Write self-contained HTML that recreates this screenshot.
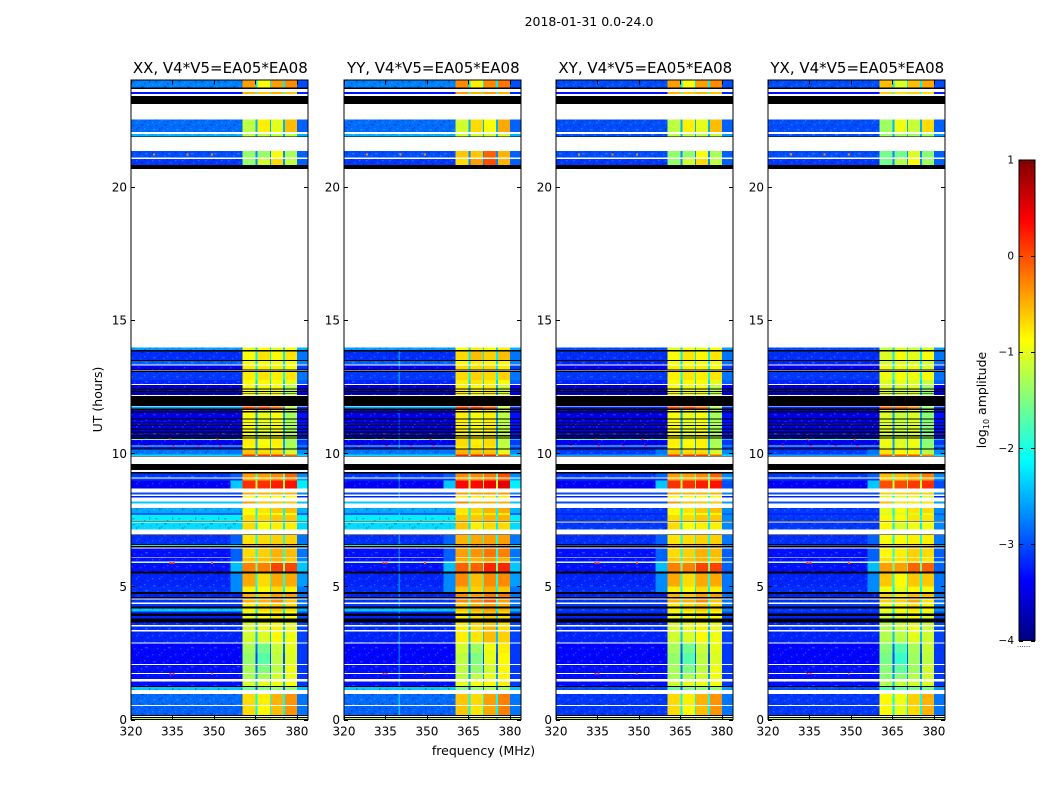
<!DOCTYPE html>
<html>
<head>
<meta charset="utf-8">
<title>2018-01-31 amplitude waterfall</title>
<style>
html,body{margin:0;padding:0;background:#fff;}
body{width:1050px;height:800px;overflow:hidden;}
svg{display:block;}
text{font-family:"DejaVu Sans","Liberation Sans",sans-serif;fill:#000;}
</style>
</head>
<body>
<svg id="chart" xmlns="http://www.w3.org/2000/svg" width="1050" height="800" viewBox="0 0 1050 800">
  <defs>
    <pattern id="speckle" width="23" height="19" patternUnits="userSpaceOnUse">
      <rect x="1" y="0" width="1.4" height="1.4" fill="#000" opacity=".28"/>
      <rect x="7" y="1" width="2.8" height="1.4" fill="#8cf" opacity=".3"/>
      <rect x="14" y="0" width="1.4" height="1.4" fill="#000" opacity=".3"/>
      <rect x="19" y="2" width="1.4" height="1.4" fill="#8cf" opacity=".25"/>
      <rect x="3" y="3" width="1.4" height="1.4" fill="#8cf" opacity=".28"/>
      <rect x="11" y="4" width="1.4" height="2.8" fill="#000" opacity=".28"/>
      <rect x="17" y="5" width="2.8" height="1.4" fill="#000" opacity=".22"/>
      <rect x="0" y="6" width="1.4" height="1.4" fill="#8cf" opacity=".25"/>
      <rect x="6" y="7" width="1.4" height="1.4" fill="#000" opacity=".3"/>
      <rect x="21" y="8" width="1.4" height="1.4" fill="#8cf" opacity=".3"/>
      <rect x="14" y="8" width="1.4" height="1.4" fill="#8cf" opacity=".3"/>
      <rect x="3" y="10" width="2.8" height="1.4" fill="#000" opacity=".25"/>
      <rect x="9" y="10" width="1.4" height="1.4" fill="#8cf" opacity=".25"/>
      <rect x="18" y="11" width="1.4" height="1.4" fill="#000" opacity=".3"/>
      <rect x="12" y="12" width="1.4" height="1.4" fill="#000" opacity=".22"/>
      <rect x="0" y="13" width="1.4" height="1.4" fill="#000" opacity=".25"/>
      <rect x="6" y="14" width="1.4" height="1.4" fill="#8cf" opacity=".3"/>
      <rect x="21" y="14" width="1.4" height="2.8" fill="#000" opacity=".22"/>
      <rect x="15" y="15" width="2.8" height="1.4" fill="#8cf" opacity=".25"/>
      <rect x="2" y="16" width="1.4" height="1.4" fill="#8cf" opacity=".25"/>
      <rect x="10" y="17" width="1.4" height="1.4" fill="#000" opacity=".28"/>
    </pattern>
    <linearGradient id="jet-gradient" x1="0" y1="1" x2="0" y2="0">
      <stop offset="0" stop-color="#00007f"/>
      <stop offset=".125" stop-color="#0000ff"/>
      <stop offset=".375" stop-color="#00ffff"/>
      <stop offset=".625" stop-color="#ffff00"/>
      <stop offset=".875" stop-color="#ff0000"/>
      <stop offset="1" stop-color="#7f0000"/>
    </linearGradient>
  </defs>
  <text x="589" y="26" font-size="12.5" text-anchor="middle">2018-01-31 0.0-24.0</text>
  <text x="483.5" y="755" font-size="12.5" text-anchor="middle">frequency (MHz)</text>
  <text x="0" y="0" font-size="12.5" text-anchor="middle" transform="translate(102,399.5) rotate(-90)">UT (hours)</text>
  <text x="0" y="0" font-size="12.5" text-anchor="middle" transform="translate(986,400) rotate(-90)">log<tspan font-size="8" dy="3">10</tspan><tspan dy="-3"> amplitude</tspan></text>
</svg>
<script>
// ---- data -------------------------------------------------------------
const panelTitles = ["XX, V4*V5=EA05*EA08", "YY, V4*V5=EA05*EA08", "XY, V4*V5=EA05*EA08", "YX, V4*V5=EA05*EA08"];
const panelBandShift = [0, 0.1, 0, -0.15];
const panelIsCross = [false, false, true, true];
const freqTicks = [320, 335, 350, 365, 380];
const timeTicks = [0, 5, 10, 15, 20];
const colorTicks = [-4, -3, -2, -1, 0, 1];
const freqRange = [320, 384];
const timeRange = [0, 24];
const colorRange = [-4, 1];
// spectral windows (MHz)
const shoulderEdges = [356, 360.4];
const bandEdges = [[360.4, 365.1], [365.7, 370.2], [370.7, 375], [375.6, 380]];
const gapEdges = [[365.1, 365.7], [370.2, 370.7], [375, 375.6]];
const yyRfiChannel = [339.7, 340.2];
// t0, t1 (hours), bg parallel, bg cross, upper-edge level, band 1-4, extra YY band level (log10 amp)
const rows = [
[0,.06,-1.2,-1.2,-1.2,-1,-1,-1,-1,0],
[.16,.5,-2.9,-3.1,-2.8,-.7,-.85,-.55,-.35,0],
[.55,.95,-2.85,-3.1,-2.8,-.7,-.8,-.5,-.35,0],
[1.1,1.23,-2.4,-3,-2.4,-1.6,-1.5,-1.4,-1.4,0],
[1.26,1.42,-3.3,-3.3,-3.1,-1.1,-1,-.95,-.9,0],
[1.52,1.7,-3.3,-3.3,-3.1,-1.3,-1.3,-1.1,-.95,0],
[1.74,2.04,-3.3,-3.3,-3.1,-1.3,-1.5,-1.2,-.95,0],
[2.08,2.5,-3.35,-3.35,-3.1,-1.4,-1.7,-1.2,-1.05,.1],
[2.5,2.86,-3.35,-3.35,-3.1,-1.3,-1.55,-1.15,-1,.1],
[2.9,3.3,-3.2,-3.2,-3.05,-1.1,-1.05,-.85,-.95,.2],
[3.36,3.5,-3.15,-3.15,-3,-1.1,-1,-.8,-1,.2],
[3.55,3.65,-3.2,-3.2,-3,-1.1,-1,-.9,-1,.2],
[3.8,3.88,-3.2,-3.2,-3,-1,-.9,-.8,-.9,.1],
[3.99,4.05,-3.2,-3.2,-3,-1,-.9,-.8,-.9,.1],
[4.05,4.17,-2.4,-3.1,-2.5,-.8,-.7,-.6,-.7,.1],
[4.25,4.34,-3.1,-3.1,-2.8,-.8,-.7,-.6,-.7,.1],
[4.39,4.5,-3.1,-3.1,-2.8,-.5,-.5,-.3,-.6,.1],
[4.55,4.75,-3.2,-3.2,-2.8,-.5,-.6,-.4,-.4,.1],
[4.78,5,-3.15,-3.15,-2.8,-.8,-.85,-.7,-.8,.1],
[5,5.49,-3.2,-3.2,-2.6,-.45,-.7,-.45,-.45,.05],
[5.56,5.87,-3.3,-3.3,-2.4,-.25,-.25,.05,.05,.05],
[5.87,5.9,-1.6,-1.6,-2.4,-.8,-.8,-.8,-.8,0],
[5.93,6.08,-3.3,-3.3,-2.7,-.6,-.6,-.5,-.6,0],
[6.11,6.42,-3.3,-3.3,-2.8,-.7,-.65,-.5,-.55,.2],
[6.52,6.56,-2.2,-3,-2.2,-.4,-.4,-.4,-.4,0],
[6.6,6.93,-3.15,-3.15,-2.8,-.75,-.7,-.65,-.65,.15],
[7.14,7.4,-2.3,-3.1,-2.3,-.7,-.9,-.8,-.8,0],
[7.45,7.68,-2.2,-3.1,-2.2,-.7,-.7,-.6,-.6,0],
[7.68,7.75,-2.9,-3.2,-2.9,-.9,-.9,-.9,-.9,0],
[7.75,7.95,-2.55,-3.1,-2.5,-.85,-.75,-.6,-.55,0],
[8.12,8.18,-2.4,-3,-2.4,-.4,-.6,-.6,-.6,0],
[8.34,8.39,-3.2,-3.2,-3.2,-.9,-.9,-.9,-.9,0],
[8.45,8.52,-3,-3,-2.7,-.5,-.5,-.5,-.5,0],
[8.68,8.97,-3.4,-3.4,-2.2,.15,.15,.25,.3,.1],
[8.97,9.06,-3.1,-3.1,-2.6,-.5,-.5,-.4,-.3,0],
[9.09,9.24,-3.1,-3.1,-2.7,-.4,-.4,-.3,-.1,0],
[9.89,9.96,-2.3,-2.6,-2.3,.1,.1,.1,-.1,0],
[9.96,10.14,-2.8,-3.1,-2.7,-.6,-.7,-.7,-1.1,0],
[10.18,10.25,-3.3,-3.3,-3.1,-.9,-.9,-.9,-1.3,0],
[10.25,10.29,-1.6,-1.6,-2.4,-.8,-.8,-.8,-1.2,0],
[10.29,10.5,-3.4,-3.4,-3.1,-.8,-.9,-.8,-1.3,0],
[10.5,10.54,-1.4,-1.6,-2.4,-.8,-.8,-.8,-1.2,0],
[10.54,11.68,-3.5,-3.5,-3.3,-.9,-1,-.9,-1.3,0],
[11.68,11.76,-2.6,-3.2,-3.1,0,0,-.2,-1.2,0],
[12.18,12.56,-3.6,-3.6,-3.4,-.9,-.95,-.9,-1.2,0],
[12.6,12.75,-3.2,-3.2,-2.9,-.9,-.85,-.9,-1,0],
[12.75,13.05,-3.1,-3.1,-2.8,-.8,-.75,-.8,-.75,0],
[13.15,13.3,-3.4,-3.4,-3.1,-.8,-.8,-.8,-.9,0],
[13.33,13.46,-2.9,-3.2,-2.7,-.95,-.9,-.95,-.95,0],
[13.5,13.83,-3.15,-3.15,-2.8,-.9,-.75,-.85,-.75,.1],
[13.87,13.97,-2.6,-3,-2.5,-1,-.9,-1,-.9,0],
[20.82,21.05,-3.1,-3.1,-2.9,-1.4,-1.1,-.7,-1.2,.6],
[21.1,21.35,-3,-3,-2.9,-1.4,-1.4,-.9,-1.3,.7],
[21.9,22,-2.5,-3,-2.5,-1.2,-1.2,-1.2,-1.2,0],
[22.07,22.53,-2.85,-3,-2.9,-1.2,-.8,-1,-.55,0],
[23.5,23.57,-3.3,-3.3,-3.2,-.5,-.6,-.5,-.6,0],
[23.73,24,-2.75,-3,-3,-.4,-.9,-.4,-.3,0]
];
// elevated level just below the band edge (t0, t1, level)
const shoulderRows = [
[4.78,5.49,-2.7],[5.56,5.87,-2.45],[5.93,6.42,-2.9],[6.6,6.93,-2.9],
[8.68,8.97,-2.4],[9.09,9.24,-2.9],[9.96,10.14,-2.8]
];
// narrow-band interference flecks (freq MHz, hour, level)
const rfiMarks = [
[334,1.72,.1],[335,1.72,.1],[349,1.72,-.4],[334,5.88,.1],[335,5.88,.1],[349,5.88,-.1],
[325,10.27,-.2],[335,10.27,.1],[344,10.27,.1],[352,10.27,.1],[334,10.52,-.2],[351,10.52,.1],
[328,21.22,-.3],[340,21.22,-.3],[349,21.22,-.3]
];
// fully dark sample ranges (t0, t1 hours)
const blackBands = [
[.06,.09],[.13,.16],[1.23,1.26],[3.65,3.8],[3.88,3.99],[4.17,4.25],[4.55,4.6],[4.72,4.78],
[5.49,5.56],[6.46,6.52],[6.56,6.6],[6.93,6.95],[7.43,7.45],[9.24,9.3],[9.37,9.59],[9.87,9.89],
[10.14,10.18],[10.55,10.59],[10.62,10.68],[10.77,10.81],[10.9,10.93],[11.02,11.06],[11.15,11.18],
[11.27,11.31],[11.53,11.58],[11.63,11.68],[11.77,12.15],[12.22,12.25],[12.3,12.33],[12.4,12.43],
[13.06,13.1],[13.12,13.15],[13.46,13.5],[13.83,13.87],[20.67,20.82],[21.87,21.89],[23.12,23.42],[23.68,23.73]
];
// ---- layout -----------------------------------------------------------
const NS = "http://www.w3.org/2000/svg";
const svg = document.getElementById("chart");
const panelLefts = [131, 344, 556, 768];
const panelWidth = 177, plotTop = 80.5, plotBottom = 719.5;
const xScale = (left, f) => left + (f - freqRange[0]) / (freqRange[1] - freqRange[0]) * panelWidth;
const yScale = t => plotBottom - (t - timeRange[0]) / (timeRange[1] - timeRange[0]) * (plotBottom - plotTop);
const jetPart = v => Math.max(0, Math.min(1, 1.5 - Math.abs(4 * v)));
function jet(level) {
  const v = Math.max(0, Math.min(1, (level - colorRange[0]) / (colorRange[1] - colorRange[0])));
  const r = Math.round(255 * jetPart(v - .75));
  const g = Math.round(255 * jetPart(v - .5));
  const b = Math.round(255 * jetPart(v - .25));
  return "rgb(" + r + "," + g + "," + b + ")";
}
function el(tag, parent) {
  const e = document.createElementNS(NS, tag);
  parent.appendChild(e);
  return e;
}
function setBox(e, x0, x1, y0, y1, fill) {
  e.setAttribute("x", x0.toFixed(2));
  e.setAttribute("y", y1.toFixed(2));
  e.setAttribute("width", (x1 - x0).toFixed(2));
  e.setAttribute("height", (y0 - y1).toFixed(2));
  e.setAttribute("fill", fill);
  e.setAttribute("shape-rendering", "crispEdges");
}
function line(parent, x1, y1, x2, y2, w) {
  const l = el("line", parent);
  l.setAttribute("x1", x1); l.setAttribute("y1", y1);
  l.setAttribute("x2", x2); l.setAttribute("y2", y2);
  l.setAttribute("stroke", "#000");
  l.setAttribute("stroke-width", w || 1);
  return l;
}
function label(parent, x, y, str, size, anchor) {
  const t = el("text", parent);
  t.setAttribute("x", x); t.setAttribute("y", y);
  t.setAttribute("font-size", size);
  t.setAttribute("text-anchor", anchor);
  t.textContent = str;
  return t;
}
// ---- panels -----------------------------------------------------------
panelLefts.forEach((left, p) => {
  const g = el("g", svg);
  
  
  const y = yScale;
  const x = f => xScale(left, f);
  rows.forEach(r => {
    const t0 = r[0], t1 = r[1];
    const bg = panelIsCross[p] ? r[3] : r[2];
    const edge = panelIsCross[p] ? Math.min(r[4], r[3] + .4) : r[4];
    const extra = p === 1 ? r[9] : 0;
    const row = el("g", g);
    
    
    const bgCell = el("rect", row);
    
    
    setBox(bgCell, x(freqRange[0]), x(shoulderEdges[1]), y(t0), y(t1), jet(bg));
    const rightCell = el("rect", row);
    
    
    setBox(rightCell, x(bandEdges[3][1]), x(freqRange[1]), y(t0), y(t1), jet(edge));
    if (t1 - t0 > .09) {
      const speck = el("rect", row);
      
      
      setBox(speck, x(freqRange[0]), x(shoulderEdges[1]), y(t0), y(t1), "url(#speckle)");
    }
    const levels = r.slice(5, 9);
    levels.forEach((lv, i) => {
      const cell = el("rect", row);
      
      
      setBox(cell, x(bandEdges[i][0]), x(bandEdges[i][1]), y(t0), y(t1), jet(lv + panelBandShift[p] + extra));
    });
    gapEdges.forEach(e => {
      const gap = el("rect", row);
      
      
      setBox(gap, x(e[0]), x(e[1]), y(t0), y(t1), jet(Math.min(...levels) - 1.3));
    });
    if (p === 1 && t1 < 14 && bg < -2.8) {
      const rfi = el("rect", row);
      
      
      setBox(rfi, x(yyRfiChannel[0]), x(yyRfiChannel[1]), y(t0), y(t1), jet(bg + .45));
    }
  });
  shoulderRows.forEach(s => {
    const c = el("rect", g);
    
    
    setBox(c, x(shoulderEdges[0]), x(shoulderEdges[1]), y(s[0]), y(s[1]), jet(s[2]));
  });
  rfiMarks.forEach(m => {
    const c = el("rect", g);
    
    
    setBox(c, x(m[0]), x(m[0] + .7), y(m[1] - .03), y(m[1] + .03), jet(m[2]));
  });
  blackBands.forEach(b => {
    const k = el("rect", g);
    
    
    setBox(k, x(freqRange[0]), x(freqRange[1]), y(b[0]), y(b[1]), "#000");
  });
  // frame
  const frame = el("rect", g);
  
  
  frame.setAttribute("x", left);
  frame.setAttribute("y", plotTop - .5);
  frame.setAttribute("width", panelWidth);
  frame.setAttribute("height", plotBottom - plotTop + .5);
  frame.setAttribute("fill", "none");
  frame.setAttribute("stroke", "#000");
  frame.setAttribute("stroke-width", "1");
  // ticks
  freqTicks.forEach(f => {
    const px = Math.round(x(f)) + .5;
    const tb = line(g, px, plotBottom, px, plotBottom - 4);
    
    
    const tt = line(g, px, plotTop, px, plotTop + 4);
    
    
    const lab = label(g, x(f), plotBottom + 16, String(f), 12, "middle");
    
    
  });
  timeTicks.forEach(t => {
    const py = Math.round(y(t)) + .5;
    const tl = line(g, left, py, left + 4, py);
    
    
    const tr = line(g, left + panelWidth, py, left + panelWidth - 4, py);
    
    
    const lab = label(g, left - 4, y(t) + 4.5, String(t), 12, "end");
    
    
  });
  const title = label(g, left + panelWidth / 2 + .8, 73, panelTitles[p], 15, "middle");
  
  
});
// ---- colorbar ---------------------------------------------------------
const cbLeft = 1019, cbRight = 1035, cbTop = 160, cbBottom = 640.5;
const cbY = v => cbBottom - (v - colorRange[0]) / (colorRange[1] - colorRange[0]) * (cbBottom - cbTop);
const cb = el("g", svg);


const cbRect = el("rect", cb);


cbRect.setAttribute("x", cbLeft);
cbRect.setAttribute("y", cbTop);
cbRect.setAttribute("width", cbRight - cbLeft);
cbRect.setAttribute("height", cbBottom - cbTop);
cbRect.setAttribute("fill", "url(#jet-gradient)");
cbRect.setAttribute("stroke", "#000");
cbRect.setAttribute("stroke-width", "1");
colorTicks.forEach(v => {
  const py = Math.round(cbY(v)) + .5;
  const t1 = line(cb, cbLeft, py, cbLeft + 4, py);
  
  
  const t2 = line(cb, cbRight, py, cbRight - 4, py);
  
  
  const lab = label(cb, cbLeft - 5, cbY(v) + 3.5, (v < 0 ? "\u2212" + (-v) : String(v)), 10.5, "end");
  
  
});
const dots = el("text", cb);


dots.setAttribute("x", cbLeft - 2);
dots.setAttribute("y", 647);
dots.setAttribute("font-size", "7");
dots.setAttribute("fill", "#777");
dots.textContent = "......";
</script>
</body>
</html>
